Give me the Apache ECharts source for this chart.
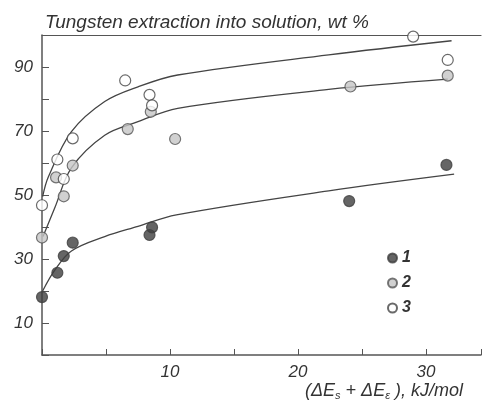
<!DOCTYPE html>
<html>
<head>
<meta charset="utf-8">
<script src="https://cdn.jsdelivr.net/npm/echarts@6/dist/echarts.min.js"></script>
<style>
  html, body { margin: 0; padding: 0; background: #fff; }
  #chart { width: 484px; height: 402px; }
</style>
</head>
<body>
<div id="chart"></div>
<script>
// measured points, [x kJ/mol, extraction wt %]
var points1 = [[0, 18.1], [1.2, 25.7], [1.7, 30.9], [2.4, 35.1], [8.4, 37.5], [8.6, 39.9], [24.0, 48.1], [31.6, 59.4]];
var points2 = [[0, 36.7], [1.1, 55.5], [1.7, 49.6], [2.4, 59.2], [6.7, 70.6], [8.5, 76.0], [10.4, 67.5], [24.1, 83.9], [31.7, 87.3]];
var points3 = [[0, 46.8], [1.2, 61.1], [1.7, 55.0], [2.4, 67.7], [6.5, 85.8], [8.4, 81.3], [8.6, 78.0], [29.0, 99.5], [31.7, 92.2]];

// fitted curves drawn through the points
var curve1 = [[0.05, 20], [1, 26.5], [2.3, 32.5], [4.9, 37], [7.5, 40.2], [10.5, 43.8], [22.4, 51.3], [32.2, 56.5]];
var curve2 = [[0.08, 37], [1, 46], [2.3, 58.5], [4.9, 68.7], [7.5, 72.9], [10.6, 77.1], [22.4, 83.0], [31.7, 86.2]];
var curve3 = [[0.05, 49.5], [0.5, 55.7], [2.3, 69.8], [4.9, 79.2], [7.5, 83.8], [10.6, 87.5], [22.4, 93.8], [32, 98.2]];

var yLabels = [10, 30, 50, 70, 90];
var xLabels = [10, 20, 30];

var chart = echarts.init(document.getElementById('chart'));
var font = '"Liberation Sans", Arial, sans-serif';
var ink = '#444';

function curveSeries(data) {
  return {
    type: 'line',
    data: data,
    smooth: 0.35,
    showSymbol: false,
    silent: true,
    z: 1,
    lineStyle: { color: ink, width: 1.3 }
  };
}

function pointSeries(name, data, fill, border) {
  return {
    name: name,
    type: 'scatter',
    data: data,
    symbol: 'circle',
    symbolSize: 11,
    z: 3,
    itemStyle: { color: fill, borderColor: border, borderWidth: 1.2 }
  };
}

var options = {
  animation: false,
  title: [
    {
      text: 'Tungsten extraction into solution, wt %',
      left: 40,
      top: 8,
      textStyle: { fontFamily: font, fontStyle: 'italic', fontWeight: 'normal', fontSize: 19, color: '#333' }
    },
    {
      // x axis caption, with subscripts
      text: '{t|(ΔE}{s|s}{t| + ΔE}{s|ε}{t| ), kJ/mol}',
      left: 305,
      top: 381,
      padding: 0,
      textStyle: {
        fontWeight: 'normal',
        rich: {
          t: { fontFamily: font, fontStyle: 'italic', fontWeight: 'normal', fontSize: 18, color: '#333' },
          s: { fontFamily: font, fontStyle: 'italic', fontWeight: 'normal', fontSize: 11, color: '#333', verticalAlign: 'bottom', padding: [9, 0, 0, 0] }
        }
      }
    }
  ],
  legend: {
    orient: 'vertical',
    left: 382,
    top: 245,
    itemWidth: 9,
    itemHeight: 9,
    itemGap: 9,
    data: ['1', '2', '3'],
    textStyle: { fontFamily: font, fontStyle: 'italic', fontWeight: 'bold', fontSize: 16, lineHeight: 16, color: '#333' }
  },
  grid: { left: 42, top: 35, right: 0, bottom: 47 },
  xAxis: [
    {
      type: 'value',
      min: 0,
      max: 34.3,
      interval: 5,
      splitLine: { show: false },
      axisLine: { lineStyle: { color: '#555', width: 1.5 } },
      axisTick: { inside: true, length: 6, lineStyle: { color: '#555' } },
      axisLabel: {
        margin: 9,
        fontFamily: font, fontStyle: 'italic', fontSize: 17, color: '#333',
        formatter: function (v) { return xLabels.indexOf(v) >= 0 ? String(v) : ''; }
      }
    },
    {
      // top frame line
      type: 'value',
      position: 'top',
      min: 0,
      max: 34.3,
      splitLine: { show: false },
      axisLine: { show: true, lineStyle: { color: '#555', width: 1.2 } },
      axisTick: { show: false },
      axisLabel: { show: false }
    }
  ],
  yAxis: {
    type: 'value',
    min: 0,
    max: 100,
    interval: 10,
    splitLine: { show: false },
    axisLine: { lineStyle: { color: '#555', width: 1.5 } },
    axisTick: { inside: true, length: 7, lineStyle: { color: '#555' } },
    axisLabel: {
      margin: 9,
      fontFamily: font, fontStyle: 'italic', fontSize: 17, color: '#333',
      formatter: function (v) { return yLabels.indexOf(v) >= 0 ? String(v) : ''; }
    }
  },
  series: [
    curveSeries(curve1),
    curveSeries(curve2),
    curveSeries(curve3),
    pointSeries('1', points1, '#3f3f3f', '#3f3f3f'),
    pointSeries('2', points2, '#c6c6c6', '#555'),
    pointSeries('3', points3, '#ffffff', '#444')
  ]
};

chart.setOption(options);
</script>
</body>
</html>
